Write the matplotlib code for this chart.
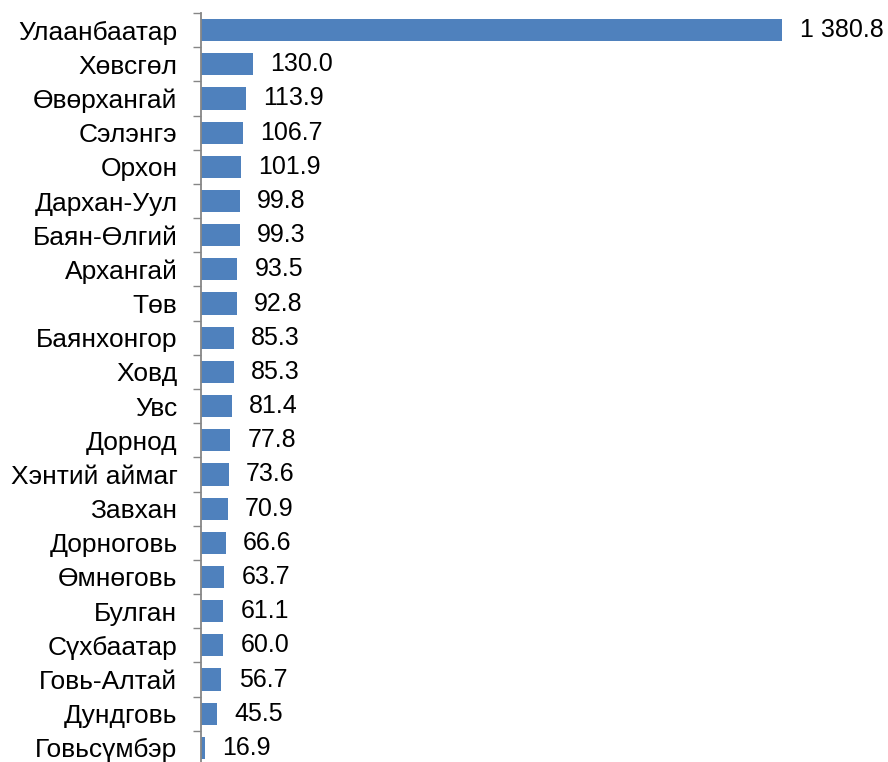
import matplotlib
matplotlib.use("Agg")
import matplotlib.pyplot as plt
from matplotlib.ticker import FixedLocator, NullLocator
import numpy as np

plt.rcParams['font.family'] = ['Liberation Sans', 'DejaVu Sans']

categories = ["Улаанбаатар", "Хөвсгөл", "Өвөрхангай", "Сэлэнгэ", "Орхон",
              "Дархан-Уул", "Баян-Өлгий", "Архангай", "Төв", "Баянхонгор",
              "Ховд", "Увс", "Дорнод", "Хэнтий аймаг", "Завхан", "Дорноговь",
              "Өмнөговь", "Булган", "Сүхбаатар", "Говь-Алтай", "Дундговь",
              "Говьсүмбэр"]
values = [1380.8, 130.0, 113.9, 106.7, 101.9, 99.8, 99.3, 93.5, 92.8, 85.3,
          85.3, 81.4, 77.8, 73.6, 70.9, 66.6, 63.7, 61.1, 60.0, 56.7, 45.5, 16.9]

W, H = 888, 762
fig = plt.figure(figsize=(W / 100, H / 100), dpi=100)
ax_left, ax_top, ax_bottom = 201, 13, 765
ax = fig.add_axes([ax_left / W, (H - ax_bottom) / H, (W - ax_left) / W, (ax_bottom - ax_top) / H])

n = len(categories)
y = np.arange(n)
ax.barh(y, values, height=0.65, color="#4F81BD", zorder=2)

ax.set_ylim(n - 0.5, -0.5)
ax.set_xlim(8.3, 1630.8)

def fmt(v):
    s = f"{v:,.1f}"
    return s.replace(",", " ")

for yi, v in zip(y, values):
    ax.annotate(fmt(v), xy=(v, yi), xytext=(12.5, 0), textcoords="offset points",
                va="center", ha="left", fontsize=18, color="black")

for s in ["top", "right", "bottom"]:
    ax.spines[s].set_visible(False)
ax.spines["left"].set_color("#868686")
ax.spines["left"].set_linewidth(1.3)
ax.spines["left"].set_zorder(3)

ax.xaxis.set_major_locator(NullLocator())
ax.set_yticks(y)
ax.set_yticklabels(categories, fontsize=19)
ax.tick_params(axis="y", which="major", length=0, pad=17)
ax.yaxis.set_minor_locator(FixedLocator(np.arange(-0.5, n, 1.0)))
ax.tick_params(axis="y", which="minor", length=6, width=1.0, color="#868686", direction="out")

fig.savefig("out.png", dpi=100)
